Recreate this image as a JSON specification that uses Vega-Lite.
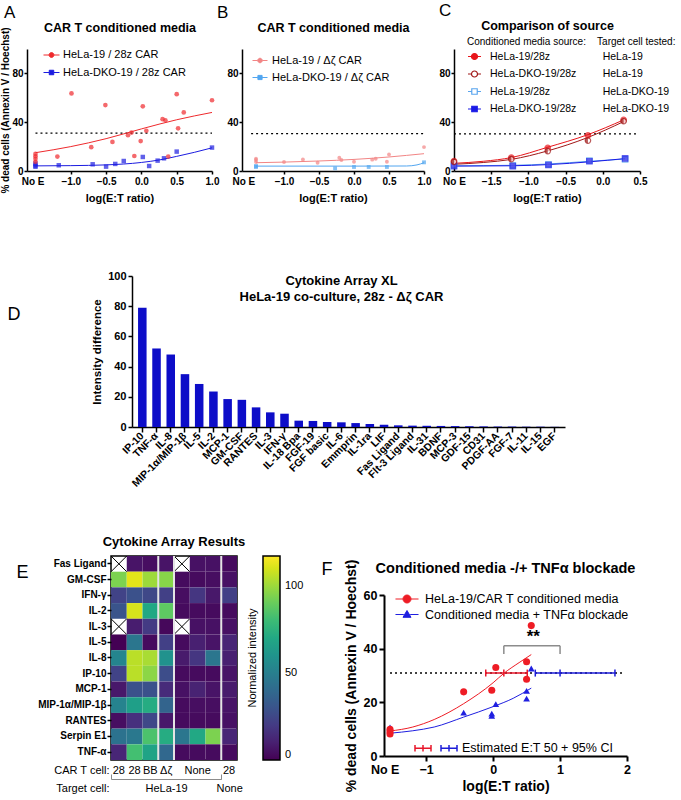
{
"$schema": "https://vega.github.io/schema/vega-lite/v6.json",
"background": "white",
"padding": {"left": 0, "top": 2, "right": 2, "bottom": 2},
"bounds": "flush",
"spacing": 227,
"config": {
  "font": "Liberation Sans",
  "view": {"stroke": null},
  "axis": {"grid": false, "domainColor": "#000", "domainWidth": 1.5, "tickColor": "#000", "tickWidth": 1.5, "tickSize": 3, "labelColor": "#000", "labelFontWeight": "bold", "labelFontSize": 10, "labelPadding": 1, "labelFlush": false, "labelOverlap": false, "titleColor": "#000", "titleFontWeight": "bold", "titleFontSize": 11, "titlePadding": 5},
  "legend": {"labelColor": "#000", "titleColor": "#000", "padding": 0, "labelFontSize": 11, "titleFontWeight": "normal", "symbolStrokeWidth": 1, "symbolOpacity": 1, "labelLimit": 400, "titleLimit": 400},
  "title": {"color": "#000", "fontWeight": "bold"}
},
"datasets": {
  "A_pts": [
    {"x":-1.5,"y":14,"s":"r"},{"x":-1.5,"y":12,"s":"r"},{"x":-1.5,"y":10,"s":"r"},{"x":-1.5,"y":7.6,"s":"r"},{"x":-1.19,"y":11.8,"s":"r"},{"x":-0.99,"y":63.6,"s":"r"},{"x":-0.71,"y":19.5,"s":"r"},{"x":-0.51,"y":54,"s":"r"},{"x":-0.41,"y":23.8,"s":"r"},{"x":-0.19,"y":29.3,"s":"r"},{"x":-0.14,"y":31.5,"s":"r"},{"x":-0.1,"y":12.3,"s":"r"},{"x":-0.01,"y":24.5,"s":"r"},{"x":0.02,"y":53,"s":"r"},{"x":0.07,"y":33,"s":"r"},{"x":0.3,"y":42.5,"s":"r"},{"x":0.34,"y":41.6,"s":"r"},{"x":0.38,"y":11.8,"s":"r"},{"x":0.5,"y":63,"s":"r"},{"x":0.52,"y":35,"s":"r"},{"x":0.6,"y":48,"s":"r"},{"x":1.0,"y":58,"s":"r"},
    {"x":-1.5,"y":6,"s":"b"},{"x":-1.5,"y":4.5,"s":"b"},{"x":-1.5,"y":3.5,"s":"b"},{"x":-1.17,"y":4.7,"s":"b"},{"x":-0.69,"y":5.5,"s":"b"},{"x":-0.5,"y":3.6,"s":"b"},{"x":-0.37,"y":5.8,"s":"b"},{"x":-0.25,"y":8.2,"s":"b"},{"x":0.02,"y":11.5,"s":"b"},{"x":0.11,"y":4.1,"s":"b"},{"x":0.23,"y":8.5,"s":"b"},{"x":0.32,"y":10.4,"s":"b"},{"x":0.5,"y":15.9,"s":"b"},{"x":1.0,"y":19.2,"s":"b"}
  ],
  "A_fit": [
    {"x":-1.5,"y":15,"s":"r"},{"x":-1.0,"y":20,"s":"r"},{"x":-0.5,"y":26.5,"s":"r"},{"x":0,"y":34.5,"s":"r"},{"x":0.5,"y":42,"s":"r"},{"x":1.0,"y":48,"s":"r"},
    {"x":-1.5,"y":4.2,"s":"b"},{"x":-1.0,"y":4.4,"s":"b"},{"x":-0.5,"y":5,"s":"b"},{"x":0,"y":7,"s":"b"},{"x":0.25,"y":9,"s":"b"},{"x":0.5,"y":12,"s":"b"},{"x":0.75,"y":15.3,"s":"b"},{"x":1.0,"y":19,"s":"b"}
  ],
  "A_ref": [{"x":-1.5,"x2":1.0,"y":31}],
  "B_pts": [
    {"x":-1.4,"y":10,"s":"r"},{"x":-1.4,"y":9,"s":"r"},{"x":-1.4,"y":7.4,"s":"r"},{"x":-1.0,"y":7.4,"s":"r"},{"x":-0.73,"y":9.5,"s":"r"},{"x":-0.52,"y":6.8,"s":"r"},{"x":-0.21,"y":10.9,"s":"r"},{"x":-0.18,"y":9,"s":"r"},{"x":0,"y":7.6,"s":"r"},{"x":0.26,"y":9.3,"s":"r"},{"x":0.31,"y":10,"s":"r"},{"x":0.47,"y":7.6,"s":"r"},{"x":0.5,"y":13.6,"s":"r"},{"x":1.0,"y":19.6,"s":"r"},
    {"x":-1.4,"y":4.1,"s":"b"},{"x":-1.4,"y":3.3,"s":"b"},{"x":-0.27,"y":2.2,"s":"b"},{"x":0,"y":3.3,"s":"b"},{"x":0.21,"y":3.3,"s":"b"},{"x":0.47,"y":3.3,"s":"b"},{"x":1.0,"y":7.1,"s":"b"}
  ],
  "B_fit": [
    {"x":-1.4,"y":6.8,"s":"r"},{"x":-1.0,"y":7.3,"s":"r"},{"x":-0.5,"y":8.2,"s":"r"},{"x":0,"y":9.5,"s":"r"},{"x":0.5,"y":11.5,"s":"r"},{"x":1.0,"y":14.2,"s":"r"},
    {"x":-1.4,"y":4,"s":"b"},{"x":0,"y":4,"s":"b"},{"x":0.75,"y":4.1,"s":"b"},{"x":0.9,"y":5,"s":"b"},{"x":1.0,"y":6.8,"s":"b"}
  ],
  "B_ref": [{"x":-1.47,"x2":1.0,"y":30.7}],
  "C_pts": [
    {"x":-2.0,"y":8.2,"s":"c1"},{"x":-1.23,"y":10.9,"s":"c1"},{"x":-0.74,"y":18.9,"s":"c1"},{"x":-0.2,"y":29.2,"s":"c1"},{"x":0.28,"y":41.9,"s":"c1"},
    {"x":-2.0,"y":7.5,"s":"c2"},{"x":-1.23,"y":9.7,"s":"c2"},{"x":-0.74,"y":16.3,"s":"c2"},{"x":-0.2,"y":24.9,"s":"c2"},{"x":0.28,"y":40.8,"s":"c2"},
    {"x":-2.0,"y":4.6,"s":"c3"},{"x":-1.21,"y":4.6,"s":"c3"},{"x":-0.73,"y":5.4,"s":"c3"},{"x":-0.18,"y":8.6,"s":"c3"},{"x":0.3,"y":9.5,"s":"c3"},
    {"x":-2.0,"y":4.0,"s":"c4"},{"x":-1.21,"y":4.0,"s":"c4"},{"x":-0.73,"y":4.9,"s":"c4"},{"x":-0.18,"y":8.0,"s":"c4"},{"x":0.3,"y":10.3,"s":"c4"}
  ],
  "C_fit": [
    {"x":-2.0,"y":6.3,"s":"c1"},{"x":-1.6,"y":8,"s":"c1"},{"x":-1.23,"y":11,"s":"c1"},{"x":-0.74,"y":19.5,"s":"c1"},{"x":-0.2,"y":29.8,"s":"c1"},{"x":0.28,"y":41.9,"s":"c1"},
    {"x":-2.0,"y":5.5,"s":"c2"},{"x":-1.6,"y":7,"s":"c2"},{"x":-1.23,"y":9.5,"s":"c2"},{"x":-0.74,"y":16.5,"s":"c2"},{"x":-0.2,"y":27.5,"s":"c2"},{"x":0.28,"y":40.5,"s":"c2"},
    {"x":-2.0,"y":4.3,"s":"c3"},{"x":-1.2,"y":4.7,"s":"c3"},{"x":-0.72,"y":5.8,"s":"c3"},{"x":-0.18,"y":8,"s":"c3"},{"x":0.3,"y":9.8,"s":"c3"},
    {"x":-2.0,"y":4,"s":"c4"},{"x":-1.2,"y":4.3,"s":"c4"},{"x":-0.72,"y":5.3,"s":"c4"},{"x":-0.18,"y":7.5,"s":"c4"},{"x":0.3,"y":10.2,"s":"c4"}
  ],
  "C_ref": [{"x":-2.0,"x2":0.47,"y":30.5}],
  "D_bars": [
    {"cyt":"IP-10","v":79},{"cyt":"TNF-α","v":52},{"cyt":"IL-8","v":48},{"cyt":"MIP-1α/MIP-1β","v":35},{"cyt":"IL-5","v":28.5},{"cyt":"IL-2","v":23.5},{"cyt":"MCP-1","v":18.5},{"cyt":"GM-CSF","v":18},{"cyt":"RANTES","v":13},{"cyt":"IL-3","v":9.7},{"cyt":"IFN-γ","v":8.8},{"cyt":"IL-18 Bpa","v":4.2},{"cyt":"FGF-19","v":4},{"cyt":"FGF basic","v":3.3},{"cyt":"IL-6","v":3.1},{"cyt":"Emmprin","v":2.6},{"cyt":"IL-1ra","v":2},{"cyt":"LIF","v":1.5},{"cyt":"Fas Ligand","v":1.1},{"cyt":"Flt-3 Ligand","v":0.9},{"cyt":"IL-31","v":0.8},{"cyt":"BDNF","v":0.7},{"cyt":"MCP-3","v":0.6},{"cyt":"GDF-15","v":0.5},{"cyt":"CD31","v":0.4},{"cyt":"PDGF-AA","v":0.3},{"cyt":"FGF-7","v":0.3},{"cyt":"IL-11","v":0.2},{"cyt":"IL-15","v":0.2},{"cyt":"EGF","v":0.1}
  ],
  "E_cells": [
    {"r":"Fas Ligand","c":"c2","v":6},{"r":"Fas Ligand","c":"c3","v":4},{"r":"Fas Ligand","c":"c4","v":6},{"r":"Fas Ligand","c":"c6","v":5},{"r":"Fas Ligand","c":"c7","v":5},{"r":"Fas Ligand","c":"c8","v":3},
    {"r":"GM-CSF","c":"c1","v":94},{"r":"GM-CSF","c":"c2","v":112},{"r":"GM-CSF","c":"c3","v":100},{"r":"GM-CSF","c":"c4","v":96},{"r":"GM-CSF","c":"c5","v":3},{"r":"GM-CSF","c":"c6","v":3},{"r":"GM-CSF","c":"c7","v":4},{"r":"GM-CSF","c":"c8","v":5},
    {"r":"IFN-γ","c":"c1","v":23},{"r":"IFN-γ","c":"c2","v":29},{"r":"IFN-γ","c":"c3","v":25},{"r":"IFN-γ","c":"c4","v":22},{"r":"IFN-γ","c":"c5","v":4},{"r":"IFN-γ","c":"c6","v":18},{"r":"IFN-γ","c":"c7","v":7},{"r":"IFN-γ","c":"c8","v":22},
    {"r":"IL-2","c":"c1","v":30},{"r":"IL-2","c":"c2","v":110},{"r":"IL-2","c":"c3","v":70},{"r":"IL-2","c":"c4","v":88},{"r":"IL-2","c":"c5","v":3},{"r":"IL-2","c":"c6","v":3},{"r":"IL-2","c":"c7","v":3},{"r":"IL-2","c":"c8","v":3},
    {"r":"IL-3","c":"c2","v":9},{"r":"IL-3","c":"c3","v":20},{"r":"IL-3","c":"c4","v":2},{"r":"IL-3","c":"c6","v":5},{"r":"IL-3","c":"c7","v":5},{"r":"IL-3","c":"c8","v":5},
    {"r":"IL-5","c":"c1","v":0},{"r":"IL-5","c":"c2","v":46},{"r":"IL-5","c":"c3","v":3},{"r":"IL-5","c":"c4","v":22},{"r":"IL-5","c":"c5","v":3},{"r":"IL-5","c":"c6","v":10},{"r":"IL-5","c":"c7","v":6},{"r":"IL-5","c":"c8","v":12},
    {"r":"IL-8","c":"c1","v":53},{"r":"IL-8","c":"c2","v":105},{"r":"IL-8","c":"c3","v":102},{"r":"IL-8","c":"c4","v":59},{"r":"IL-8","c":"c5","v":8},{"r":"IL-8","c":"c6","v":18},{"r":"IL-8","c":"c7","v":46},{"r":"IL-8","c":"c8","v":10},
    {"r":"IP-10","c":"c1","v":23},{"r":"IP-10","c":"c2","v":105},{"r":"IP-10","c":"c3","v":97},{"r":"IP-10","c":"c4","v":27},{"r":"IP-10","c":"c5","v":3},{"r":"IP-10","c":"c6","v":3},{"r":"IP-10","c":"c7","v":3},{"r":"IP-10","c":"c8","v":6},
    {"r":"MCP-1","c":"c1","v":7},{"r":"MCP-1","c":"c2","v":29},{"r":"MCP-1","c":"c3","v":29},{"r":"MCP-1","c":"c4","v":14},{"r":"MCP-1","c":"c5","v":5},{"r":"MCP-1","c":"c6","v":11},{"r":"MCP-1","c":"c7","v":6},{"r":"MCP-1","c":"c8","v":8},
    {"r":"MIP-1α/MIP-1β","c":"c1","v":52},{"r":"MIP-1α/MIP-1β","c":"c2","v":66},{"r":"MIP-1α/MIP-1β","c":"c3","v":72},{"r":"MIP-1α/MIP-1β","c":"c4","v":37},{"r":"MIP-1α/MIP-1β","c":"c5","v":3},{"r":"MIP-1α/MIP-1β","c":"c6","v":4},{"r":"MIP-1α/MIP-1β","c":"c7","v":4},{"r":"MIP-1α/MIP-1β","c":"c8","v":6},
    {"r":"RANTES","c":"c1","v":4},{"r":"RANTES","c":"c2","v":16},{"r":"RANTES","c":"c3","v":25},{"r":"RANTES","c":"c4","v":7},{"r":"RANTES","c":"c5","v":3},{"r":"RANTES","c":"c6","v":3},{"r":"RANTES","c":"c7","v":3},{"r":"RANTES","c":"c8","v":5},
    {"r":"Serpin E1","c":"c1","v":44},{"r":"Serpin E1","c":"c2","v":47},{"r":"Serpin E1","c":"c3","v":84},{"r":"Serpin E1","c":"c4","v":72},{"r":"Serpin E1","c":"c5","v":46},{"r":"Serpin E1","c":"c6","v":70},{"r":"Serpin E1","c":"c7","v":94},{"r":"Serpin E1","c":"c8","v":12},
    {"r":"TNF-α","c":"c1","v":12},{"r":"TNF-α","c":"c2","v":82},{"r":"TNF-α","c":"c3","v":68},{"r":"TNF-α","c":"c4","v":39},{"r":"TNF-α","c":"c5","v":3},{"r":"TNF-α","c":"c6","v":3},{"r":"TNF-α","c":"c7","v":3},{"r":"TNF-α","c":"c8","v":3}
  ],
  "E_missing": [{"r":"Fas Ligand","c":"c1"},{"r":"Fas Ligand","c":"c5"},{"r":"IL-3","c":"c1"},{"r":"IL-3","c":"c5"}],
  "E_sep": [{"p":3},{"p":4},{"p":7}],
  "F_pts": [
    {"x":-1.54,"y":10,"s":"r"},{"x":-1.54,"y":9,"s":"r"},{"x":-1.54,"y":8.2,"s":"r"},{"x":-0.44,"y":23.9,"s":"r"},{"x":-0.02,"y":24.5,"s":"r"},{"x":0.04,"y":33,"s":"r"},{"x":0.5,"y":35.1,"s":"r"},{"x":0.5,"y":28.6,"s":"r"},{"x":0.57,"y":48.6,"s":"r"},
    {"x":-1.54,"y":10.7,"s":"b"},{"x":-1.54,"y":9.6,"s":"b"},{"x":-0.44,"y":16.2,"s":"b"},{"x":-0.02,"y":15.8,"s":"b"},{"x":-0.02,"y":15,"s":"b"},{"x":0.04,"y":19.3,"s":"b"},{"x":0.5,"y":24.3,"s":"b"},{"x":0.5,"y":21.4,"s":"b"},{"x":0.57,"y":32.6,"s":"b"}
  ],
  "F_fit": [
    {"x":-1.54,"y":9.3,"s":"r"},{"x":-1.2,"y":10.8,"s":"r"},{"x":-0.88,"y":13.6,"s":"r"},{"x":-0.44,"y":19.5,"s":"r"},{"x":0,"y":27.3,"s":"r"},{"x":0.16,"y":30.8,"s":"r"},{"x":0.4,"y":35,"s":"r"},{"x":0.57,"y":37.8,"s":"r"},
    {"x":-1.54,"y":8.5,"s":"b"},{"x":-1.2,"y":9.4,"s":"b"},{"x":-0.88,"y":10.8,"s":"b"},{"x":-0.44,"y":14.5,"s":"b"},{"x":0,"y":18.4,"s":"b"},{"x":0.3,"y":21.5,"s":"b"},{"x":0.57,"y":25.3,"s":"b"}
  ],
  "F_ref": [{"x":-1.54,"x2":1.95,"y":30.9}],
  "F_ci": [{"ci":"cr","lo":-0.11,"hi":0.51,"y":30.9},{"ci":"cb","lo":0.63,"hi":1.82,"y":30.9}],
  "F_cit": [{"ci":"cr","x":-0.11,"y":30.9},{"ci":"cr","x":0.16,"y":30.9},{"ci":"cr","x":0.51,"y":30.9},{"ci":"cb","x":0.63,"y":30.9},{"ci":"cb","x":1.0,"y":30.9},{"ci":"cb","x":1.82,"y":30.9}],
  "F_br": [{"x":0.16,"x2":1.0,"y":41.1,"y2":41.1},{"x":0.16,"x2":0.16,"y":38,"y2":41.1},{"x":1.0,"x2":1.0,"y":38,"y2":41.1}],
  "F_sig": [{"x":0.6,"y":44.5,"t":"**"}]
},
"resolve": {"scale": {"fill": "independent", "stroke": "independent", "shape": "independent", "color": "independent"}},
"vconcat": [
  {
    "hconcat": [
      {
        "width": 185, "height": 122,
        "title": {"text": "A", "anchor": "start", "frame": "group", "fontSize": 17, "fontWeight": "normal", "dx": -23, "dy": 20, "offset": 6, "baseline": "alphabetic"},
        "layer": [
          {"data": {"name": "A_ref"}, "mark": {"type": "rule", "strokeDash": [2, 3], "color": "#000", "strokeWidth": 1.2},
           "encoding": {
             "x": {"field": "x", "type": "quantitative", "scale": {"domain": [-1.62, 1.0], "nice": false, "zero": false}, "axis": {"orient": "top", "domain": false, "ticks": false, "labels": false, "title": "CAR T conditioned media", "titleFontSize": 12.5, "titlePadding": 15}},
             "x2": {"field": "x2"},
             "y": {"field": "y", "type": "quantitative"}}},
          {"data": {"name": "A_fit"}, "mark": {"type": "line", "strokeWidth": 1, "interpolate": "monotone"},
           "encoding": {
             "x": {"field": "x", "type": "quantitative", "axis": null},
             "y": {"field": "y", "type": "quantitative"},
             "stroke": {"field": "s", "type": "nominal", "scale": {"domain": ["r", "b"], "range": ["#ef2a2d", "#1c1ce0"]}}}},
          {"data": {"name": "A_pts"}, "transform": [{"filter": "datum.s == 'b'"}], "mark": {"type": "point", "filled": true, "size": 20, "shape": "square"},
           "encoding": {
             "x": {"field": "x", "type": "quantitative", "axis": null},
             "y": {"field": "y", "type": "quantitative"},
             "fill": {"field": "s", "type": "nominal"}}},
          {"data": {"name": "A_pts"}, "transform": [{"filter": "datum.s == 'r'"}], "mark": {"type": "point", "filled": true, "size": 22, "shape": "circle"},
           "encoding": {
             "x": {"field": "x", "type": "quantitative", "axis": {"values": [-1.54, -1, -0.5, 0, 0.5, 1], "labelExpr": "datum.value < -1.2 ? 'No E' : format(datum.value, '.1f')", "tickOpacity": {"condition": {"test": "datum.value < -1.2", "value": 0}, "value": 1}, "labelPadding": 2, "title": "log(E:T ratio)", "titlePadding": 6}},
             "y": {"field": "y", "type": "quantitative", "scale": {"domain": [0, 100]}, "axis": {"values": [0, 20, 40, 60, 80, 100], "title": "% dead cells (Annexin V / Hoechst)", "titleFontSize": 10, "titlePadding": 1}},
             "fill": {"field": "s", "type": "nominal", "scale": {"domain": ["r", "b"], "range": ["#ef2a2d", "#1c1ce0"]}}}},
          {"data": {"name": "A_pts"}, "transform": [{"filter": "false"}], "mark": {"type": "point", "filled": true},
           "encoding": {
             "fill": {"field": "s", "type": "nominal",
               "legend": {"orient": "none", "legendX": 16, "legendY": -2.5, "title": null, "symbolSize": 256, "labelOffset": 3, "rowPadding": 3.5, "labelFontSize": 11,
                 "labelExpr": "datum.value == 'r' ? 'HeLa-19 / 28z CAR' : 'HeLa-DKO-19 / 28z CAR'"}},
             "shape": {"field": "s", "type": "nominal", "scale": {"domain": ["r", "b"], "range": ["M-1,0H-0.3M0.3,0H1M-0.3,0A0.3,0.3,0,1,1,0.3,0A0.3,0.3,0,1,1,-0.3,0Z", "M-1,0H-0.28M0.28,0H1M-0.28,-0.28H0.28V0.28H-0.28Z"]}}}}
        ],
        "resolve": {"axis": {"x": "independent"}}
      },
      {
        "width": 182, "height": 122,
        "title": {"text": "B", "anchor": "start", "frame": "group", "fontSize": 17, "fontWeight": "normal", "dx": -25, "dy": 20, "offset": 6, "baseline": "alphabetic"},
        "layer": [
          {"data": {"name": "B_ref"}, "mark": {"type": "rule", "strokeDash": [2, 3], "color": "#000", "strokeWidth": 1.2},
           "encoding": {
             "x": {"field": "x", "type": "quantitative", "scale": {"domain": [-1.6, 1.0], "nice": false, "zero": false}, "axis": {"orient": "top", "domain": false, "ticks": false, "labels": false, "title": "CAR T conditioned media", "titleFontSize": 12.5, "titlePadding": 15}},
             "x2": {"field": "x2"},
             "y": {"field": "y", "type": "quantitative"}}},
          {"data": {"name": "B_fit"}, "mark": {"type": "line", "strokeWidth": 1, "interpolate": "monotone"},
           "encoding": {
             "x": {"field": "x", "type": "quantitative", "axis": null},
             "y": {"field": "y", "type": "quantitative"},
             "stroke": {"field": "s", "type": "nominal", "scale": {"domain": ["r", "b"], "range": ["#f28585", "#52a6f0"]}}}},
          {"data": {"name": "B_pts"}, "transform": [{"filter": "datum.s == 'b'"}], "mark": {"type": "point", "filled": true, "size": 15, "shape": "square"},
           "encoding": {
             "x": {"field": "x", "type": "quantitative", "axis": null},
             "y": {"field": "y", "type": "quantitative"},
             "fill": {"field": "s", "type": "nominal"}}},
          {"data": {"name": "B_pts"}, "transform": [{"filter": "datum.s == 'r'"}], "mark": {"type": "point", "filled": true, "size": 15, "shape": "circle"},
           "encoding": {
             "x": {"field": "x", "type": "quantitative", "axis": {"values": [-1.58, -1, -0.5, 0, 0.5, 1], "labelExpr": "datum.value < -1.2 ? 'No E' : format(datum.value, '.1f')", "tickOpacity": {"condition": {"test": "datum.value < -1.2", "value": 0}, "value": 1}, "labelPadding": 2, "title": "log(E:T ratio)", "titlePadding": 6}},
             "y": {"field": "y", "type": "quantitative", "scale": {"domain": [0, 100]}, "axis": {"values": [0, 20, 40, 60, 80, 100], "title": null}},
             "fill": {"field": "s", "type": "nominal", "scale": {"domain": ["r", "b"], "range": ["#f28585", "#52a6f0"]}}}},
          {"data": {"name": "B_pts"}, "transform": [{"filter": "false"}], "mark": {"type": "point", "filled": true},
           "encoding": {
             "fill": {"field": "s", "type": "nominal",
               "legend": {"orient": "none", "legendX": 10, "legendY": 3.5, "title": null, "symbolSize": 225, "labelOffset": 4, "rowPadding": 4, "labelFontSize": 11,
                 "labelExpr": "datum.value == 'r' ? 'HeLa-19 / Δζ CAR' : 'HeLa-DKO-19 / Δζ CAR'"}},
             "shape": {"field": "s", "type": "nominal", "scale": {"domain": ["r", "b"], "range": ["M-1,0H-0.3M0.3,0H1M-0.3,0A0.3,0.3,0,1,1,0.3,0A0.3,0.3,0,1,1,-0.3,0Z", "M-1,0H-0.28M0.28,0H1M-0.28,-0.28H0.28V0.28H-0.28Z"]}}}}
        ],
        "resolve": {"axis": {"x": "independent"}}
      },
      {
        "width": 186, "height": 122,
        "title": {"text": "C", "anchor": "start", "frame": "group", "fontSize": 17, "fontWeight": "normal", "dx": -15, "dy": 20, "offset": 6, "baseline": "alphabetic"},
        "layer": [
          {"data": {"name": "C_ref"}, "mark": {"type": "rule", "strokeDash": [2, 3], "color": "#000", "strokeWidth": 1.2},
           "encoding": {
             "x": {"field": "x", "type": "quantitative", "scale": {"domain": [-2.0, 0.5], "nice": false, "zero": false}, "axis": {"orient": "top", "domain": false, "ticks": false, "labels": false, "title": "Comparison of source", "titleFontSize": 12.5, "titlePadding": 17}},
             "x2": {"field": "x2"},
             "y": {"field": "y", "type": "quantitative"}}},
          {"data": {"name": "C_fit"}, "mark": {"type": "line", "strokeWidth": 1, "interpolate": "monotone"},
           "encoding": {
             "x": {"field": "x", "type": "quantitative", "axis": null},
             "y": {"field": "y", "type": "quantitative"},
             "stroke": {"field": "s", "type": "nominal", "scale": {"domain": ["c1", "c2", "c3", "c4"], "range": ["#e8161b", "#a01818", "#5aa5ee", "#1a1ae6"]}}}},
          {"data": {"name": "C_pts"}, "transform": [{"filter": "datum.s == 'c3' || datum.s == 'c4'"}], "mark": {"type": "point", "filled": true, "size": 30, "shape": "square", "strokeWidth": 1.2},
           "encoding": {
             "x": {"field": "x", "type": "quantitative", "axis": null},
             "y": {"field": "y", "type": "quantitative"},
             "fill": {"field": "s", "type": "nominal"},
             "stroke": {"field": "s", "type": "nominal"}}},
          {"data": {"name": "C_pts"}, "transform": [{"filter": "datum.s == 'c1' || datum.s == 'c2'"}], "mark": {"type": "point", "filled": true, "size": 30, "shape": "circle", "strokeWidth": 1.2},
           "encoding": {
             "x": {"field": "x", "type": "quantitative", "axis": {"values": [-2.0, -1.5, -1, -0.5, 0, 0.5], "labelExpr": "datum.value < -1.9 ? 'No E' : format(datum.value, '.1f')", "tickOpacity": {"condition": {"test": "datum.value < -1.9", "value": 0}, "value": 1}, "labelPadding": 2, "title": "log(E:T ratio)", "titlePadding": 6}},
             "y": {"field": "y", "type": "quantitative", "scale": {"domain": [0, 100]}, "axis": {"values": [0, 20, 40, 60, 80, 100], "title": null}},
             "fill": {"field": "s", "type": "nominal", "scale": {"domain": ["c1", "c2", "c3", "c4"], "range": ["#e8161b", "#ffffff", "#ffffff", "#1a1ae6"]}},
             "stroke": {"field": "s", "type": "nominal"}}},
          {"data": {"name": "C_pts"}, "transform": [{"filter": "datum.s == 'c2'"}], "mark": {"type": "point", "filled": true, "size": 30, "shape": "M0,-1A1,1,0,0,0,0,1Z", "color": "#a01818"},
           "encoding": {
             "x": {"field": "x", "type": "quantitative", "axis": null},
             "y": {"field": "y", "type": "quantitative"}}},
          {"data": {"name": "C_pts"}, "transform": [{"filter": "false"}], "mark": {"type": "point", "filled": true},
           "encoding": {
             "fill": {"field": "s", "type": "nominal",
               "legend": {"orient": "none", "legendX": 13, "legendY": -12, "title": "Conditioned media source:\u00a0\u00a0\u00a0\u00a0Target cell tested:", "titleFontSize": 10, "titlePadding": 2, "symbolSize": 169, "symbolStrokeWidth": 1.2, "labelOffset": 8, "rowPadding": 4.5, "labelFontSize": 10.5,
                 "labelExpr": "datum.value == 'c1' ? 'HeLa-19/28z\u00a0\u00a0\u00a0\u00a0\u00a0\u00a0\u00a0\u00a0\u00a0\u00a0\u00a0\u00a0\u00a0\u00a0\u00a0\u00a0\u00a0\u00a0HeLa-19' : datum.value == 'c2' ? 'HeLa-DKO-19/28z\u00a0\u00a0\u00a0\u00a0\u00a0\u00a0\u00a0\u00a0\u00a0HeLa-19' : datum.value == 'c3' ? 'HeLa-19/28z\u00a0\u00a0\u00a0\u00a0\u00a0\u00a0\u00a0\u00a0\u00a0\u00a0\u00a0\u00a0\u00a0\u00a0\u00a0\u00a0\u00a0\u00a0HeLa-DKO-19' : 'HeLa-DKO-19/28z\u00a0\u00a0\u00a0\u00a0\u00a0\u00a0\u00a0\u00a0\u00a0HeLa-DKO-19'"}},
             "stroke": {"field": "s", "type": "nominal"},
             "shape": {"field": "s", "type": "nominal", "scale": {"domain": ["c1", "c2", "c3", "c4"], "range": ["M-1,0H-0.46M0.46,0H1M-0.46,0A0.46,0.46,0,1,1,0.46,0A0.46,0.46,0,1,1,-0.46,0Z", "M-1,0H-0.46M0.46,0H1M-0.46,0A0.46,0.46,0,1,1,0.46,0A0.46,0.46,0,1,1,-0.46,0Z", "M-1,0H-0.42M0.42,0H1M-0.42,-0.42H0.42V0.42H-0.42Z", "M-1,0H-0.42M0.42,0H1M-0.42,-0.42H0.42V0.42H-0.42Z"]}}}}
        ],
        "resolve": {"axis": {"x": "independent"}}
      }
    ],
    "spacing": 30,
    "bounds": "flush",
    "resolve": {"scale": {"fill": "independent", "stroke": "independent", "shape": "independent", "color": "independent"}}
  },
  {
    "vconcat": [
      {
        "hconcat": [
          {"width": 105, "height": 1, "data": {"values": [{}]}, "mark": {"type": "point", "opacity": 0}},
          {
            "width": 433, "height": 151,
            "title": {"text": ["Cytokine  Array XL", "HeLa-19 co-culture, 28z - Δζ CAR"], "fontSize": 13, "lineHeight": 16.5, "offset": -14, "dx": -7, "dy": 30, "baseline": "alphabetic", "frame": "group"},
            "data": {"name": "D_bars"},
            "mark": {"type": "bar", "color": "#0d0dc8"},
            "encoding": {
              "x": {"field": "cyt", "type": "nominal", "sort": null, "scale": {"paddingInner": 0.4, "paddingOuter": 0.425},
                "axis": {"labelAngle": -45, "labelAlign": "right", "labelBaseline": "middle", "labelFontSize": 10.5, "tickSize": 5, "labelPadding": 2,
                  "title": "D", "titleX": -125, "titleY": -108, "titleAngle": 0, "titleAlign": "left", "titleBaseline": "alphabetic", "titleFontSize": 18, "titleFontWeight": "normal"}},
              "y": {"field": "v", "type": "quantitative", "scale": {"domain": [0, 100]}, "axis": {"values": [0, 20, 40, 60, 80, 100], "labelFontSize": 11, "tickSize": 4, "labelPadding": 2, "title": "Intensity difference", "titleFontSize": 11.5}}
            }
          }
        ],
        "spacing": 0,
        "bounds": "flush"
      },
      {
        "hconcat": [
          {
            "hconcat": [
              {"width": 84, "height": 1, "data": {"values": [{}]}, "mark": {"type": "point", "opacity": 0}},
              {
                "width": 126, "height": 204,
                "title": {"text": "Cytokine Array  Results", "fontSize": 13, "offset": 9, "dy": 14, "baseline": "alphabetic", "frame": "group"},
                "view": {"stroke": "#000", "strokeWidth": 1.5},
                "layer": [
                  {"data": {"name": "E_cells"}, "mark": {"type": "rect"},
                   "encoding": {
                     "x": {"field": "c", "type": "nominal", "scale": {"domain": ["c1","c2","c3","c4","c5","c6","c7","c8"], "paddingInner": 0, "paddingOuter": 0},
                       "axis": {"orient": "bottom", "domain": false, "ticks": false, "labelAngle": 0, "labelFontWeight": "normal", "labelFontSize": 11, "labelPadding": 4,
                         "labelExpr": "datum.value == 'c1' || datum.value == 'c2' || datum.value == 'c8' ? '28' : datum.value == 'c3' ? 'BB' : datum.value == 'c4' ? 'Δζ' : datum.value == 'c6' ? 'None' : ''",
                         "title": "CAR T cell:", "titleX": -2, "titleY": 13, "titleAlign": "right", "titleBaseline": "alphabetic", "titleFontWeight": "normal", "titleFontSize": 11}},
                     "y": {"field": "r", "type": "nominal", "sort": null, "scale": {"domain": ["Fas Ligand","GM-CSF","IFN-γ","IL-2","IL-3","IL-5","IL-8","IP-10","MCP-1","MIP-1α/MIP-1β","RANTES","Serpin E1","TNF-α"], "paddingInner": 0, "paddingOuter": 0},
                       "axis": {"domain": false, "tickSize": 4, "labelPadding": 1, "labelFontSize": 10,
                         "title": "E", "titleAngle": 0, "titleX": -95, "titleY": 21, "titleAlign": "left", "titleBaseline": "alphabetic", "titleFontSize": 18, "titleFontWeight": "normal"}},
                     "color": {"field": "v", "type": "quantitative", "scale": {"scheme": "viridis", "domain": [0, 117]},
                       "legend": {"orient": "none", "legendX": 136, "legendY": 0, "direction": "vertical", "gradientLength": 204, "gradientThickness": 17, "values": [0, 50, 100],
                         "title": "Normalized intensity", "titleOrient": "left", "titleAnchor": "middle", "titleFontSize": 11, "titleFontWeight": "normal", "titlePadding": 4,
                         "labelFontSize": 11, "labelOffset": 5, "gradientStrokeColor": "#000", "gradientStrokeWidth": 1.5}}}},
                  {"data": {"name": "E_missing"}, "mark": {"type": "point", "shape": "M-1,-1L1,1M1,-1L-1,1", "size": 246, "filled": false, "color": "#000", "strokeWidth": 1, "opacity": 1},
                   "encoding": {
                     "x": {"field": "c", "type": "nominal", "scale": {"domain": ["c1","c2","c3","c4","c5","c6","c7","c8"], "paddingInner": 0, "paddingOuter": 0},
                       "axis": {"orient": "bottom", "offset": 20, "domain": false, "ticks": false, "labelAngle": 0, "labelFontWeight": "normal", "labelFontSize": 11, "labelPadding": 2,
                         "labelExpr": "datum.value == 'c4' ? 'HeLa-19' : datum.value == 'c8' ? 'None' : ''",
                         "title": "Target cell:", "titleX": -2, "titleY": 11, "titleAlign": "right", "titleBaseline": "alphabetic", "titleFontWeight": "normal", "titleFontSize": 11}},
                     "y": {"field": "r", "type": "nominal"}}},
                  {"data": {"name": "E_sep"}, "mark": {"type": "rule", "color": "#e4e4e4", "strokeWidth": 2},
                   "encoding": {
                     "x": {"field": "p", "type": "quantitative", "scale": {"domain": [0, 7], "range": [0, 110.25], "nice": false, "zero": false},
                       "axis": {"orient": "bottom", "offset": 19, "values": [0, 7], "labels": false, "domainColor": "#8c8c8c", "domainWidth": 1, "tickColor": "#8c8c8c", "tickWidth": 1, "tickSize": -5, "title": null}}}}
                ],
                "resolve": {"scale": {"x": "independent"}, "axis": {"x": "independent"}}
              }
            ],
            "spacing": 0,
            "bounds": "flush",
            "resolve": {"scale": {"fill": "independent", "stroke": "independent", "shape": "independent", "color": "independent"}}
          },
          {
            "width": 243, "height": 200,
            "title": {"text": "Conditioned media -/+ TNFα blockade", "fontSize": 14.5, "offset": -15, "dy": 16, "baseline": "alphabetic", "frame": "group"},
            "layer": [
              {"data": {"name": "F_ref"}, "mark": {"type": "rule", "strokeDash": [2, 3], "color": "#000", "strokeWidth": 1.5},
               "encoding": {
                 "x": {"field": "x", "type": "quantitative", "scale": {"domain": [-1.63, 2.0], "nice": false, "zero": false},
                   "axis": {"orient": "top", "domain": false, "ticks": false, "labels": false, "title": "F", "titleX": -63, "titleY": 18, "titleAngle": 0, "titleAlign": "left", "titleBaseline": "alphabetic", "titleFontSize": 18, "titleFontWeight": "normal"}},
                 "x2": {"field": "x2"},
                 "y": {"field": "y", "type": "quantitative"}}},
              {"data": {"name": "F_br"}, "mark": {"type": "rule", "color": "#8c8c8c", "strokeWidth": 1.5},
               "encoding": {
                 "x": {"field": "x", "type": "quantitative", "axis": null},
                 "x2": {"field": "x2"},
                 "y": {"field": "y", "type": "quantitative"},
                 "y2": {"field": "y2"}}},
              {"data": {"name": "F_ci"}, "mark": {"type": "rule", "strokeWidth": 1.5},
               "encoding": {
                 "x": {"field": "lo", "type": "quantitative", "axis": null},
                 "x2": {"field": "hi"},
                 "y": {"field": "y", "type": "quantitative"},
                 "color": {"field": "ci", "type": "nominal", "scale": {"domain": ["cr", "cb"], "range": ["#e8162a", "#1c1cd8"]},
                   "legend": {"orient": "none", "legendX": 30, "legendY": 183, "direction": "horizontal", "title": null, "symbolSize": 256, "symbolStrokeWidth": 1.5, "labelOffset": 4, "columnPadding": 2, "labelFontSize": 12.5,
                     "symbolType": "M-1,0H1M-1,-0.4V0.4M0,-0.4V0.4M1,-0.4V0.4",
                     "labelExpr": "datum.value == 'cb' ? '\u00a0\u00a0\u00a0Estimated E:T 50 + 95% CI' : ''"}}}},
              {"data": {"name": "F_cit"}, "mark": {"type": "point", "shape": "M0,-1L0,1", "size": 49, "filled": false, "strokeWidth": 1.5, "opacity": 1},
               "encoding": {
                 "x": {"field": "x", "type": "quantitative", "axis": null},
                 "y": {"field": "y", "type": "quantitative"},
                 "color": {"field": "ci", "type": "nominal"}}},
              {"data": {"name": "F_fit"}, "mark": {"type": "line", "strokeWidth": 1, "interpolate": "monotone"},
               "encoding": {
                 "x": {"field": "x", "type": "quantitative", "axis": null},
                 "y": {"field": "y", "type": "quantitative"},
                 "stroke": {"field": "s", "type": "nominal", "scale": {"domain": ["r", "b"], "range": ["#ee1c25", "#1f1fe0"]}}}},
              {"data": {"name": "F_pts"}, "transform": [{"filter": "datum.s == 'b'"}], "mark": {"type": "point", "filled": true, "size": 45, "shape": "triangle-up", "opacity": 1},
               "encoding": {
                 "x": {"field": "x", "type": "quantitative", "axis": null},
                 "y": {"field": "y", "type": "quantitative"},
                 "fill": {"field": "s", "type": "nominal"}}},
              {"data": {"name": "F_pts"}, "transform": [{"filter": "datum.s == 'r'"}], "mark": {"type": "point", "filled": true, "size": 50, "shape": "circle", "opacity": 1},
               "encoding": {
                 "x": {"field": "x", "type": "quantitative",
                   "axis": {"values": [-1.62, -1, 0, 1, 2], "labelExpr": "datum.value < -1.5 ? 'No E' : format(datum.value, 'd')", "tickOpacity": {"condition": {"test": "datum.value < -1.5", "value": 0}, "value": 1}, "labelFontSize": 12.5, "domainWidth": 2, "tickWidth": 2, "tickSize": 5, "labelPadding": 2, "title": "log(E:T ratio)", "titleFontSize": 14, "titlePadding": 4}},
                 "y": {"field": "y", "type": "quantitative", "scale": {"domain": [0, 60], "range": [200, 39]},
                   "axis": {"values": [0, 20, 40, 60], "labelFontSize": 12.5, "domainWidth": 2, "tickWidth": 2, "tickSize": 5, "labelPadding": 2, "title": "% dead cells (Annexin V / Hoechst)", "titleFontSize": 14, "titlePadding": 5}},
                 "fill": {"field": "s", "type": "nominal", "scale": {"domain": ["r", "b"], "range": ["#ee1c25", "#1f1fe0"]}}}},
              {"data": {"name": "F_pts"}, "transform": [{"filter": "false"}], "mark": {"type": "point", "filled": true},
               "encoding": {
                 "fill": {"field": "s", "type": "nominal",
                   "legend": {"orient": "none", "legendX": 14.5, "legendY": 34.5, "title": null, "symbolSize": 256, "labelOffset": 9.5, "rowPadding": 0.5, "labelFontSize": 12.5,
                     "labelExpr": "datum.value == 'r' ? 'HeLa-19/CAR T conditioned media' : 'Conditioned media + TNFα blockade'"}},
                 "shape": {"field": "s", "type": "nominal", "scale": {"domain": ["r", "b"], "range": ["M-1.44,0H-0.5M0.5,0H1.44M-0.5,0A0.5,0.5,0,1,1,0.5,0A0.5,0.5,0,1,1,-0.5,0Z", "M-1.44,0H-0.4M0.4,0H1.44M0,-0.5L0.5,0.35H-0.5Z"]}}}},
              {"data": {"name": "F_sig"}, "mark": {"type": "text", "fontSize": 17, "fontWeight": "bold", "baseline": "middle", "color": "#000"},
               "encoding": {
                 "x": {"field": "x", "type": "quantitative", "axis": null},
                 "y": {"field": "y", "type": "quantitative"},
                 "text": {"field": "t"}}}
            ],
            "resolve": {"axis": {"x": "independent"}}
          }
        ],
        "spacing": 357,
        "bounds": "flush",
        "resolve": {"scale": {"fill": "independent", "stroke": "independent", "shape": "independent", "color": "independent"}}
      }
    ],
    "spacing": 280,
    "bounds": "flush",
    "resolve": {"scale": {"fill": "independent", "stroke": "independent", "shape": "independent", "color": "independent"}}
  }
]
}
